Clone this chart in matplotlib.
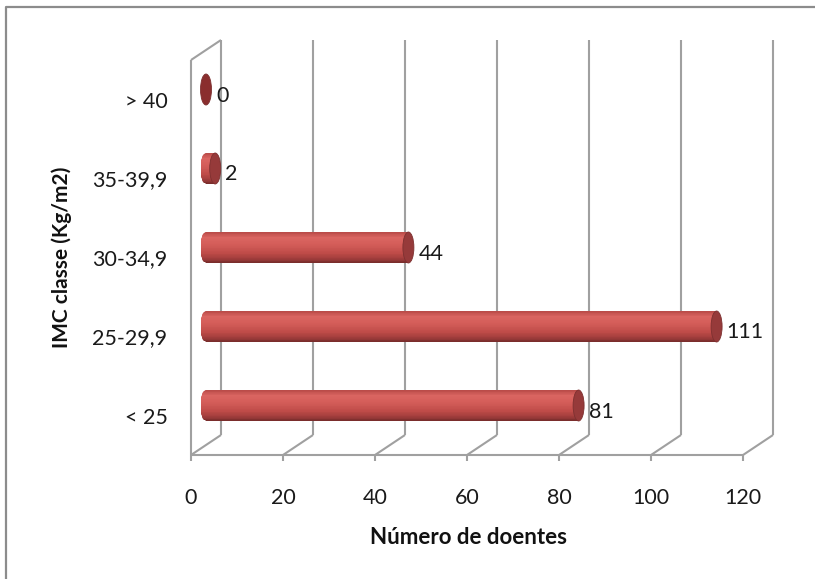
import matplotlib
matplotlib.use('Agg')
import matplotlib.pyplot as plt
import numpy as np
from matplotlib.lines import Line2D
from matplotlib.patches import Polygon, Ellipse
from matplotlib.colors import LinearSegmentedColormap

# ---- data ----
categories = ['< 25', '25-29,9', '30-34,9', '35-39,9', '> 40']
values = [81, 111, 44, 2, 0]
xticks = [0, 20, 40, 60, 80, 100, 120]
xlabel = 'Número de doentes'
ylabel = 'IMC classe (Kg/m2)'

plt.rcParams['font.family'] = ['Lato', 'DejaVu Sans']

W, H = 815, 579
fig = plt.figure(figsize=(W / 100, H / 100), dpi=100)
ax = fig.add_axes([191 / W, (H - 455) / H, (743 - 191) / W, 395 / H])
ax.set_xlim(0, 120)
ax.set_ylim(-0.5, len(categories) - 0.5)
for s in ax.spines.values():
    s.set_visible(False)
ax.patch.set_visible(False)

ax.set_xticks(xticks)
ax.set_xticklabels([str(t) for t in xticks], fontsize=15.5, color='#1a1a1a')
ax.set_yticks(range(len(categories)))
ax.set_yticklabels(categories, fontsize=15.5, color='#1a1a1a')
ax.tick_params(axis='x', length=0, pad=24)
ax.tick_params(axis='y', length=0, pad=17)

DX, DY = 30, 20          # depth of the 3D box in pixels
GRID = '#a0a0a0'
GLW = 1.5


def P(v, c, d):
    """data (value, category) at depth d (0 front .. 1 back) -> figure fraction"""
    x, y = ax.transData.transform((v, c))
    return ((x + d * DX) / W, (y + d * DY) / H)


def line(p1, p2, color=GRID, lw=GLW):
    fig.add_artist(Line2D([p1[0], p2[0]], [p1[1], p2[1]], color=color, lw=lw,
                          transform=fig.transFigure, solid_capstyle='butt', zorder=1))


ylo, yhi = -0.5, len(categories) - 0.5
# back wall gridlines and floor lines
for t in xticks:
    line(P(t, ylo, 1), P(t, yhi, 1))
    line(P(t, ylo, 0), P(t, ylo, 1))
    fx, fy = P(t, ylo, 0)
    line((fx, fy), (fx, fy - 6 / H))
# front axis line
line(P(0, ylo, 0), P(120, ylo, 0))
# left wall
line(P(0, ylo, 0), P(0, yhi, 0))
line(P(0, yhi, 0), P(0, yhi, 1))

# outer border (top and left)
fig.add_artist(Line2D([6 / W, 6 / W, 1.0], [0, 1 - 7 / H, 1 - 7 / H], color='#8c8c8c',
                      lw=1.6, transform=fig.transFigure, zorder=1))

# ---- cylinders ----
cmap = LinearSegmentedColormap.from_list('cyl', [
    (0.0, '#b84a47'), (0.18, '#da6561'), (0.4, '#d45d59'),
    (0.7, '#bd4a47'), (0.88, '#9c3b3a'), (1.0, '#762b2b')])
BAR_PX = 31.0
CAP_A = 5.5   # half width of end ellipse in px
N = 40
for i, (cat, v) in enumerate(zip(categories, values)):
    cx0, cy = P(0, i, 0.5)
    cx1, _ = P(v, i, 0.5)
    b = BAR_PX / 2 / H
    a = CAP_A / W
    if v > 0:
        ys = np.linspace(cy - b, cy + b, N + 1)
        for k in range(N):
            y0 = ys[k]
            y1 = min(ys[k + 1] + 0.8 / H, cy + b)
            t0 = np.clip((y0 - cy) / b, -1, 1)
            t1 = np.clip((y1 - cy) / b, -1, 1)
            xl0 = cx0 - a * np.sqrt(max(0, 1 - t0 ** 2))
            xl1 = cx0 - a * np.sqrt(max(0, 1 - t1 ** 2))
            frac = 1 - (k + 0.5) / N
            col = cmap(frac)
            fig.add_artist(Polygon([(xl0, y0), (cx1, y0), (cx1, y1), (xl1, y1)], closed=True,
                                   facecolor=col, edgecolor='none', lw=0,
                                   transform=fig.transFigure, zorder=3))
        capcol = '#963a3a'
    else:
        capcol = '#8a2e2e'
    fig.add_artist(Ellipse((cx1, cy), 2 * a, 2 * b, facecolor=capcol, edgecolor='#7d3030',
                           lw=0.6, transform=fig.transFigure, zorder=4))
    # value label
    lx, ly = P(v, i, 0)
    fig.text(lx + 25 / W, ly + 4 / H, str(v), ha='left', va='center', fontsize=15.5,
             color='#1a1a1a', zorder=5)

# axis titles
fig.text(468 / W, 1 - 537 / H, xlabel, ha='center', va='center', fontsize=16,
         fontweight='bold', color='#111111')
fig.text(62 / W, 1 - 257 / H, ylabel, ha='center', va='center', rotation=90,
         fontsize=15, fontweight='bold', color='#111111')

fig.savefig('out.png', dpi=100, facecolor='white')
